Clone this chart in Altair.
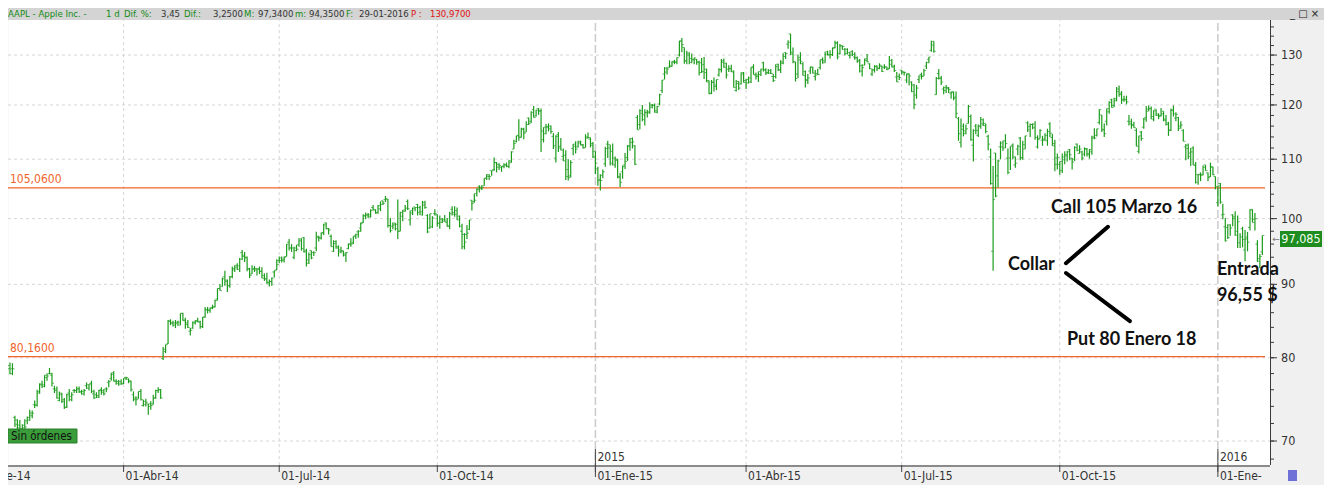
import altair as alt
import numpy as np
import pandas as pd

# ---------------- calendar ----------------
START = "2014-01-21"
END = "2016-01-29"
HOLIDAYS = ["2014-01-01", "2014-01-20", "2014-02-17", "2014-04-18", "2014-05-26", "2014-07-04",
            "2014-09-01", "2014-11-27", "2014-12-25", "2015-01-01", "2015-01-19", "2015-02-16",
            "2015-04-03", "2015-05-25", "2015-07-03", "2015-09-07", "2015-11-26", "2015-12-25",
            "2016-01-01", "2016-01-18"]

# ---------------- daily bars (open, high, low, close) per month ----------------
m2014_01 = [(77.3, 78.2, 76.9, 78.0), (78.3, 78.7, 77.9, 78.3), (78.0, 79.1, 77.8, 79.0), (78.6, 79.4, 77.9, 78.0),
            (78.6, 79.3, 77.8, 78.6), (72.7, 72.9, 71.6, 72.4), (71.9, 72.5, 71.2, 71.5), (71.8, 72.4, 71.3, 71.4),
            (71.0, 71.9, 70.5, 71.5)]
m2014_02 = [(71.8, 72.5, 71.3, 71.6), (72.3, 72.8, 71.9, 72.7), (72.4, 73.6, 72.3, 73.2), (72.9, 73.5, 72.6, 73.2),
            (74.2, 74.7, 73.8, 74.2), (74.1, 76.0, 74.0, 75.6), (75.8, 76.8, 75.5, 76.6), (76.7, 77.1, 76.2, 76.6),
            (76.4, 77.8, 76.3, 77.8), (77.5, 78.0, 77.1, 77.7), (78.0, 78.7, 77.9, 78.0), (77.8, 78.1, 76.4, 76.8),
            (76.1, 76.5, 75.6, 75.9), (76.1, 76.4, 74.9, 75.0), (74.7, 75.8, 74.6, 75.4), (75.6, 75.6, 74.4, 74.6),
            (74.8, 75.0, 73.7, 73.9), (73.9, 75.5, 73.8, 75.4), (75.6, 76.1, 74.6, 75.2)]
m2014_03 = [(74.8, 75.7, 74.6, 75.4), (75.9, 76.1, 75.6, 75.9), (75.9, 76.4, 75.6, 76.1), (76.1, 76.4, 75.6, 75.8),
            (75.7, 76.0, 75.4, 75.8), (75.5, 76.1, 75.3, 75.9), (76.5, 76.9, 76.1, 76.6), (76.2, 76.7, 75.9, 76.7),
            (76.8, 77.1, 75.6, 75.8), (75.5, 76.0, 74.9, 75.0), (75.4, 75.7, 75.0, 75.3), (75.1, 76.0, 75.0, 75.9),
            (76.0, 76.3, 75.4, 75.9), (75.7, 76.1, 75.3, 75.5), (76.1, 76.3, 75.7, 76.1), (76.9, 77.2, 76.3, 77.0),
            (77.4, 78.1, 77.1, 77.9), (78.1, 78.3, 77.0, 77.1), (77.0, 77.3, 76.6, 76.8), (77.0, 77.2, 76.5, 76.7),
            (77.0, 77.3, 76.6, 76.7)]
m2014_04 = [(76.8, 77.4, 76.7, 77.4), (77.5, 77.6, 77.2, 77.5), (77.3, 77.4, 76.8, 77.0), (77.1, 77.1, 75.8, 76.0),
            (75.4, 75.8, 74.6, 74.8), (75.0, 75.2, 74.1, 74.8), (75.0, 75.8, 74.9, 75.8), (75.8, 76.1, 74.7, 74.8),
            (74.1, 74.8, 74.0, 74.2), (74.6, 74.9, 74.0, 74.5), (74.3, 74.3, 73.0, 74.0), (74.3, 74.6, 73.6, 74.1),
            (74.3, 75.4, 74.2, 75.0), (75.0, 76.0, 74.9, 75.9), (75.9, 76.3, 75.6, 76.0), (76.0, 76.1, 74.9, 75.0),
            (79.9, 81.4, 79.7, 81.1), (80.8, 81.7, 80.6, 81.7), (81.8, 85.0, 81.8, 84.9), (84.8, 85.1, 84.3, 84.6),
            (84.6, 84.9, 84.1, 84.3)]
m2014_05 = [(84.6, 85.0, 83.9, 84.5), (84.7, 84.9, 84.2, 84.7), (84.3, 85.9, 84.3, 85.9), (85.9, 86.0, 84.9, 84.9),
            (85.0, 85.3, 83.8, 84.6), (84.4, 85.0, 83.9, 84.0), (83.5, 83.9, 82.9, 83.6), (83.9, 84.8, 83.8, 84.7),
            (84.6, 85.0, 84.4, 84.8), (84.9, 85.3, 84.7, 84.8), (84.7, 84.9, 83.8, 84.1), (84.1, 85.4, 83.9, 85.4),
            (85.4, 86.8, 85.3, 86.4), (86.4, 86.8, 85.9, 86.4), (86.3, 86.7, 86.0, 86.6), (86.7, 87.1, 86.5, 86.8),
            (86.8, 87.8, 86.7, 87.7), (87.9, 89.4, 87.7, 89.4), (89.4, 90.0, 89.1, 89.1), (89.7, 91.0, 89.7, 90.8),
            (91.1, 92.0, 89.8, 90.4)]
m2014_06 = [(90.6, 90.7, 88.9, 89.8), (89.8, 91.2, 89.5, 91.1), (91.1, 92.6, 90.9, 92.1), (92.3, 92.8, 91.8, 92.5),
            (92.8, 93.1, 92.1, 92.2), (92.7, 93.9, 91.8, 93.7), (94.7, 95.1, 93.6, 94.3), (94.1, 94.8, 93.3, 93.9),
            (94.0, 94.1, 91.9, 92.3), (92.2, 92.4, 90.9, 91.3), (91.5, 92.8, 91.5, 92.2), (92.3, 92.7, 91.8, 92.1),
            (92.3, 92.3, 91.3, 92.2), (92.3, 92.6, 91.5, 91.9), (91.9, 92.5, 90.9, 90.9), (91.3, 91.6, 90.5, 90.8),
            (90.8, 91.7, 90.1, 90.3), (90.2, 90.7, 89.7, 90.4), (90.4, 91.0, 89.8, 90.9), (91.8, 92.0, 91.0, 92.0),
            (92.1, 93.7, 92.1, 92.9)]
m2014_07 = [(93.5, 94.1, 93.1, 93.5), (93.9, 94.1, 93.2, 93.5), (93.7, 94.1, 93.2, 94.0), (94.1, 96.0, 94.1, 96.0),
            (96.3, 96.8, 95.0, 95.4), (95.4, 96.0, 94.8, 95.4), (94.0, 95.6, 93.7, 95.0), (95.4, 95.9, 94.9, 95.2),
            (95.9, 96.9, 95.6, 96.5), (96.8, 96.9, 95.0, 95.3), (97.0, 97.1, 94.7, 94.8), (95.0, 95.3, 92.6, 93.1),
            (93.6, 94.7, 93.0, 94.4), (95.0, 95.0, 93.7, 93.9), (94.7, 94.9, 94.2, 94.7), (95.4, 97.9, 94.9, 97.2),
            (97.0, 97.3, 96.4, 97.0), (96.9, 97.8, 96.7, 97.7), (97.8, 99.2, 97.4, 99.0), (99.3, 99.4, 98.3, 98.4),
            (98.4, 98.5, 97.5, 98.2), (97.2, 97.5, 95.6, 95.6)]
m2014_08 = [(94.9, 96.6, 94.8, 96.1), (96.4, 96.6, 95.3, 95.6), (95.4, 95.8, 94.1, 95.1), (94.8, 95.6, 94.6, 95.0),
            (94.9, 95.0, 94.1, 94.5), (94.3, 94.8, 93.3, 94.7), (95.3, 96.1, 95.2, 96.0), (96.0, 96.9, 95.6, 96.0),
            (96.2, 97.2, 96.0, 97.2), (97.3, 97.6, 96.8, 97.5), (97.9, 98.2, 97.0, 98.0), (98.5, 99.4, 97.9, 99.2),
            (99.4, 100.7, 99.3, 100.5), (100.4, 101.0, 99.9, 100.6), (100.6, 100.9, 100.1, 100.6),
            (100.3, 101.5, 100.2, 101.3), (101.8, 102.2, 101.3, 101.5), (101.4, 101.5, 100.8, 100.9),
            (101.0, 102.2, 100.8, 102.1), (101.6, 102.8, 101.2, 102.3), (102.9, 102.9, 102.2, 102.5)]
m2014_09 = [(103.1, 103.7, 102.7, 103.3), (103.1, 103.2, 98.6, 98.9), (98.9, 100.1, 97.8, 98.1), (98.8, 99.4, 98.3, 99.0),
            (99.3, 99.3, 98.1, 98.4), (99.1, 103.1, 96.8, 98.0), (98.0, 101.1, 98.0, 101.0), (100.4, 101.4, 99.6, 101.4),
            (101.2, 102.2, 101.1, 101.7), (102.8, 103.1, 101.4, 101.6), (99.8, 101.3, 98.9, 100.9),
            (101.3, 101.8, 100.6, 101.6), (101.9, 101.9, 101.2, 101.8), (102.3, 102.4, 100.5, 101.0),
            (101.8, 102.1, 100.6, 101.1), (100.6, 102.9, 100.5, 102.6), (102.2, 102.9, 101.6, 101.8),
            (100.5, 100.7, 97.7, 97.9), (98.5, 100.8, 98.4, 100.8), (98.7, 100.4, 98.5, 100.1), (100.8, 101.5, 100.5, 100.8)]
m2014_10 = [(100.6, 100.7, 98.7, 99.2), (99.3, 100.5, 98.4, 99.9), (99.4, 100.1, 99.3, 99.6), (99.9, 100.6, 99.5, 99.6),
            (99.4, 100.1, 98.7, 98.8), (98.8, 101.1, 98.3, 100.8), (101.5, 102.0, 100.5, 101.0), (100.7, 102.0, 100.3, 100.7),
            (101.3, 101.8, 99.8, 99.8), (100.4, 100.5, 98.6, 98.8), (98.0, 99.2, 95.2, 97.5), (95.6, 97.7, 95.2, 96.3),
            (97.5, 99.0, 96.8, 97.7), (98.3, 99.8, 98.2, 99.8), (103.0, 103.0, 101.3, 102.5), (102.8, 104.1, 102.6, 103.0),
            (104.1, 105.0, 103.6, 104.8), (105.2, 105.5, 104.3, 105.2), (104.9, 105.5, 104.7, 105.1),
            (105.4, 106.7, 105.4, 106.7), (106.7, 107.4, 106.4, 107.3), (107.0, 107.4, 106.4, 107.0),
            (108.0, 108.0, 107.1, 108.0)]
m2014_11 = [(108.2, 110.3, 108.0, 109.4), (109.4, 109.5, 107.7, 108.6), (109.1, 109.3, 108.1, 108.9),
            (108.6, 108.8, 107.8, 108.7), (108.8, 109.3, 108.4, 109.0), (109.0, 109.4, 108.6, 108.8),
            (108.7, 109.8, 108.4, 109.7), (109.4, 111.4, 109.4, 111.3), (111.8, 113.5, 111.8, 112.8),
            (113.2, 114.2, 113.0, 114.2), (114.3, 117.3, 113.3, 114.0), (113.9, 115.7, 113.9, 115.5),
            (115.4, 115.7, 113.6, 114.7), (114.9, 116.9, 114.9, 116.3), (117.5, 117.6, 116.2, 116.5),
            (116.9, 118.8, 116.6, 118.6), (119.1, 119.8, 117.6, 117.6), (117.9, 119.1, 117.8, 119.0),
            (119.3, 119.4, 118.1, 118.9)]
m2014_12 = [(118.8, 119.3, 111.3, 115.1), (113.5, 115.8, 113.0, 114.6), (115.8, 116.4, 114.5, 115.9),
            (115.8, 116.5, 115.0, 115.5), (116.0, 116.1, 114.6, 115.0), (114.1, 114.7, 111.8, 112.4),
            (110.2, 114.3, 109.4, 114.1), (114.4, 114.9, 111.3, 112.0), (112.3, 113.8, 111.6, 111.6),
            (110.5, 111.9, 109.7, 109.7), (110.7, 111.6, 106.4, 108.2), (107.0, 110.0, 106.3, 106.8),
            (107.1, 109.8, 106.8, 109.4), (111.9, 112.7, 110.7, 112.7), (112.3, 113.2, 111.0, 111.8),
            (112.2, 113.3, 112.1, 112.9), (113.2, 113.3, 112.5, 112.5), (112.6, 112.7, 111.9, 112.0),
            (112.1, 114.5, 112.1, 114.0), (113.8, 114.8, 113.7, 113.9), (113.6, 113.9, 112.1, 112.5),
            (112.8, 113.1, 110.2, 110.4)]
m2015_01 = [(111.4, 111.4, 107.4, 109.3), (108.3, 108.7, 105.4, 106.3), (106.5, 107.4, 104.6, 106.3),
            (107.2, 108.2, 106.7, 107.8), (109.2, 112.2, 108.7, 111.9), (112.7, 113.3, 110.2, 112.0),
            (112.6, 112.6, 108.9, 109.3), (111.4, 112.8, 108.9, 110.2), (109.0, 110.5, 108.5, 109.8),
            (110.0, 110.1, 106.7, 106.8), (107.0, 107.6, 105.2, 106.0), (107.8, 108.9, 106.6, 108.7),
            (109.0, 111.1, 108.3, 109.6), (110.3, 112.5, 109.7, 112.4), (112.3, 113.8, 111.5, 113.0),
            (113.7, 113.9, 111.9, 113.1), (112.4, 112.5, 109.0, 109.1), (117.6, 118.1, 115.3, 115.3),
            (116.3, 119.2, 115.4, 118.9), (118.4, 120.0, 116.9, 117.2)]
m2015_02 = [(118.1, 119.2, 116.1, 118.6), (118.5, 119.1, 117.6, 118.7), (118.5, 120.5, 118.3, 119.6),
            (120.0, 120.2, 119.3, 119.9), (120.0, 120.3, 118.5, 118.9), (118.6, 119.8, 118.4, 119.7),
            (120.2, 122.2, 119.9, 122.0), (122.8, 124.9, 122.3, 124.9), (126.1, 127.5, 125.0, 126.5),
            (127.3, 127.5, 126.0, 127.1), (127.5, 128.9, 127.4, 127.8), (127.6, 128.7, 127.6, 128.7),
            (128.5, 129.0, 128.1, 128.5), (128.6, 129.5, 128.1, 129.5), (130.0, 133.0, 129.7, 133.0),
            (132.9, 133.6, 130.6, 132.2), (131.6, 131.6, 128.2, 128.8), (128.8, 130.9, 128.1, 130.4),
            (130.0, 130.6, 128.1, 128.5)]
m2015_03 = [(129.3, 130.3, 128.3, 129.1), (129.0, 129.5, 128.1, 129.4), (129.1, 129.2, 128.0, 128.5),
            (128.6, 128.8, 125.8, 126.4), (128.4, 129.4, 126.3, 126.6), (128.0, 129.6, 125.1, 127.1),
            (126.4, 127.2, 124.5, 124.5), (124.8, 124.8, 122.1, 122.2), (122.3, 124.9, 122.1, 124.5),
            (124.4, 125.4, 122.6, 123.6), (123.9, 125.0, 122.9, 125.0), (125.9, 127.3, 125.6, 127.0),
            (127.0, 129.2, 126.4, 128.5), (128.8, 129.3, 127.4, 127.5), (128.3, 128.4, 125.2, 125.9),
            (127.1, 127.9, 126.5, 127.2), (127.2, 128.0, 126.5, 126.7), (126.5, 126.8, 123.4, 123.4),
            (122.8, 124.9, 122.6, 124.2), (124.6, 124.7, 122.9, 123.3), (124.1, 126.4, 124.0, 126.4),
            (126.1, 126.5, 124.4, 124.4)]
m2015_04 = [(124.8, 125.1, 123.1, 124.3), (125.0, 125.6, 124.2, 125.3), (124.5, 127.5, 124.3, 127.4),
            (127.6, 128.1, 126.0, 126.0), (125.9, 126.4, 125.0, 125.6), (125.9, 126.6, 124.5, 126.6),
            (126.0, 127.2, 125.7, 127.1), (128.4, 128.6, 126.6, 126.9), (127.0, 127.3, 125.9, 126.3),
            (126.4, 127.1, 126.1, 126.8), (126.3, 127.1, 126.1, 126.2), (125.6, 126.1, 124.5, 124.8),
            (125.6, 128.1, 125.2, 127.6), (128.1, 128.2, 126.7, 126.9), (127.0, 128.9, 126.3, 128.6),
            (128.3, 130.4, 128.1, 129.7), (130.5, 130.6, 129.2, 130.3), (132.3, 133.1, 131.3, 132.7),
            (134.5, 134.5, 130.0, 130.6), (130.2, 131.6, 128.3, 128.6), (128.6, 128.6, 124.6, 125.2)]
m2015_05 = [(126.1, 130.1, 125.3, 129.0), (129.5, 130.6, 128.1, 128.7), (128.2, 128.5, 125.8, 125.8),
            (126.6, 126.8, 123.4, 125.0), (124.8, 126.1, 124.1, 125.3), (126.7, 127.6, 126.1, 127.6),
            (127.4, 127.6, 126.2, 126.3), (125.6, 126.9, 124.8, 125.9), (126.2, 127.2, 125.9, 126.0),
            (127.4, 129.0, 127.0, 129.0), (129.1, 129.5, 128.2, 128.8), (128.4, 130.7, 128.4, 130.2),
            (130.7, 130.9, 129.9, 130.1), (130.0, 131.0, 129.3, 130.1), (130.1, 131.6, 129.8, 131.4),
            (131.6, 133.0, 131.4, 132.5), (132.6, 132.9, 129.1, 129.6), (130.3, 132.3, 130.1, 132.0),
            (131.9, 132.0, 131.1, 131.8), (131.2, 131.5, 129.9, 130.3)]
m2015_06 = [(131.2, 131.4, 130.1, 130.5), (129.9, 130.7, 129.3, 130.0), (130.7, 131.0, 129.8, 130.1),
            (129.6, 130.6, 129.0, 129.4), (129.5, 129.7, 128.4, 128.7), (128.9, 129.2, 126.4, 127.8),
            (126.7, 128.1, 125.6, 127.4), (127.9, 129.3, 127.9, 128.9), (129.2, 130.2, 128.5, 128.6),
            (128.2, 128.3, 127.1, 127.2), (126.1, 127.2, 125.7, 126.9), (127.0, 127.9, 126.4, 127.6),
            (127.7, 127.9, 126.7, 127.3), (127.2, 128.3, 127.1, 127.9), (127.7, 127.8, 126.5, 126.6),
            (127.5, 128.1, 127.1, 127.6), (127.5, 127.6, 126.9, 127.0), (127.2, 129.8, 127.1, 128.1),
            (128.9, 129.2, 127.5, 127.5), (127.7, 128.0, 126.5, 126.8), (125.5, 126.5, 124.5, 124.5),
            (125.6, 126.2, 124.9, 125.4)]
m2015_07 = [(126.9, 126.9, 126.0, 126.6), (126.4, 126.6, 125.8, 126.4), (124.9, 126.2, 124.3, 126.0),
            (126.2, 126.2, 123.8, 125.7), (124.5, 124.6, 122.5, 122.6), (123.9, 124.1, 119.2, 120.1),
            (121.9, 123.9, 121.2, 123.3), (125.0, 125.8, 124.3, 125.7), (126.0, 126.4, 125.0, 125.6),
            (125.7, 127.2, 125.7, 126.8), (127.7, 128.6, 127.1, 128.5), (129.1, 129.6, 128.3, 129.6),
            (131.0, 133.0, 130.7, 132.1), (132.9, 132.9, 130.5, 130.8), (122.0, 125.5, 122.0, 125.2),
            (126.2, 127.1, 125.0, 125.2), (125.3, 125.7, 123.9, 124.5), (123.1, 123.6, 122.1, 122.8),
            (123.4, 123.9, 122.3, 123.4), (123.2, 123.5, 122.3, 123.0), (122.3, 122.6, 121.2, 122.4),
            (122.6, 122.6, 120.9, 121.3)]
m2015_08 = [(121.5, 122.6, 117.5, 118.4), (117.4, 117.7, 113.3, 114.6), (113.0, 117.4, 112.1, 115.4),
            (116.0, 116.5, 114.1, 115.1), (114.6, 116.3, 114.5, 115.5), (116.5, 120.0, 116.5, 119.7),
            (117.8, 118.2, 113.3, 113.5), (112.5, 115.4, 109.6, 115.2), (116.0, 116.4, 114.5, 115.2),
            (114.3, 116.3, 114.0, 116.0), (116.0, 117.7, 115.5, 117.2), (116.4, 117.4, 116.0, 116.5),
            (116.1, 116.5, 114.7, 115.0), (114.1, 114.4, 111.6, 112.7), (110.4, 111.9, 105.6, 105.8),
            (94.9, 108.8, 92.0, 103.1), (111.1, 111.1, 103.5, 103.7), (107.1, 109.9, 105.1, 109.7),
            (112.2, 113.2, 110.0, 112.9), (112.2, 113.3, 111.5, 113.3), (112.0, 114.5, 112.0, 112.8)]
m2015_09 = [(110.2, 111.9, 107.4, 107.7), (110.2, 112.3, 108.1, 112.3), (112.5, 112.8, 110.0, 110.4),
            (109.0, 110.5, 108.5, 109.3), (111.8, 112.6, 110.7, 112.3), (113.8, 114.0, 109.8, 110.2),
            (110.3, 113.3, 109.9, 112.6), (111.8, 114.2, 111.8, 114.2), (116.6, 116.9, 114.9, 115.3),
            (115.9, 116.5, 114.0, 116.3), (116.3, 116.5, 115.4, 116.4), (115.7, 116.9, 113.5, 113.9),
            (112.2, 114.3, 111.9, 113.5), (113.7, 115.4, 113.7, 115.2), (113.4, 114.2, 112.4, 113.4),
            (113.6, 114.7, 113.3, 114.3), (113.3, 115.5, 112.4, 115.0), (116.4, 116.7, 114.0, 114.7),
            (113.9, 114.6, 112.4, 112.4), (112.8, 113.5, 107.9, 109.1), (110.2, 111.0, 108.2, 110.3)]
m2015_10 = [(109.1, 109.6, 107.3, 109.6), (108.0, 111.0, 107.6, 110.4), (109.9, 111.4, 109.1, 110.8),
            (110.6, 111.5, 109.6, 111.3), (111.7, 111.8, 109.8, 110.8), (110.2, 110.2, 108.2, 109.5),
            (110.0, 112.3, 109.7, 112.1), (112.7, 112.8, 111.4, 111.6), (111.0, 112.5, 111.0, 111.8),
            (111.3, 111.5, 109.8, 110.2), (110.9, 112.1, 110.5, 111.9), (111.8, 112.0, 110.5, 111.0),
            (110.8, 111.8, 110.1, 111.7), (111.3, 114.2, 110.8, 113.8), (114.0, 115.6, 113.6, 113.8),
            (114.3, 115.5, 114.1, 115.5), (116.7, 119.2, 116.3, 119.1), (118.1, 118.1, 114.9, 115.3),
            (115.4, 116.5, 114.0, 114.6), (116.9, 119.3, 116.1, 119.3), (118.7, 120.7, 118.3, 120.5),
            (121.0, 121.2, 119.5, 119.5)]
m2015_11 = [(119.9, 121.4, 119.6, 121.2), (120.8, 123.5, 120.7, 122.6), (123.1, 123.8, 121.6, 122.0),
            (122.3, 122.7, 120.2, 120.9), (121.1, 121.8, 120.6, 121.1), (121.0, 121.8, 120.1, 120.6),
            (116.9, 118.1, 116.1, 116.8), (116.4, 117.4, 115.5, 116.1), (116.3, 116.8, 115.7, 115.7),
            (115.2, 115.6, 112.3, 112.3), (111.4, 114.2, 111.0, 114.2), (114.9, 115.1, 113.3, 113.7),
            (115.8, 117.5, 115.5, 117.3), (117.6, 119.8, 116.8, 118.8), (119.2, 119.9, 118.8, 119.3),
            (119.3, 119.7, 117.3, 117.8), (117.3, 119.0, 116.9, 118.9), (119.2, 119.2, 117.9, 118.0),
            (118.3, 118.4, 117.3, 117.8), (118.0, 119.4, 117.8, 118.3)]
m2015_12 = [(118.8, 118.8, 116.9, 117.3), (117.1, 118.1, 116.1, 116.3), (116.6, 116.8, 114.2, 115.2),
            (115.3, 119.3, 115.1, 119.0), (119.0, 119.9, 117.8, 118.3), (117.5, 118.6, 116.9, 118.2),
            (117.6, 117.7, 115.1, 115.6), (116.0, 116.9, 115.5, 116.2), (115.2, 115.4, 113.2, 113.2),
            (112.2, 112.7, 109.8, 112.5), (111.9, 112.8, 110.0, 110.5), (111.1, 112.0, 108.8, 111.3),
            (112.0, 112.3, 109.0, 109.0), (108.9, 109.5, 105.8, 106.0), (107.3, 107.4, 105.6, 107.3),
            (107.4, 107.7, 106.2, 107.2), (107.3, 108.9, 107.2, 108.6), (109.0, 109.0, 108.0, 108.0),
            (107.6, 107.7, 106.2, 106.8), (107.0, 109.4, 106.9, 108.7), (108.6, 108.7, 107.2, 107.3),
            (107.0, 107.0, 104.8, 105.3)]
m2016_01 = [(102.6, 105.4, 102.0, 105.4), (105.8, 105.9, 102.4, 102.7), (100.6, 102.4, 99.9, 100.7),
            (98.7, 100.1, 96.4, 96.5), (98.6, 99.1, 96.8, 97.0), (99.0, 99.1, 97.3, 98.5), (100.6, 100.7, 98.8, 100.0),
            (100.3, 101.2, 97.3, 97.4), (98.0, 100.5, 95.4, 99.5), (96.2, 97.7, 95.4, 97.1), (98.4, 98.7, 95.5, 96.7),
            (95.1, 98.2, 93.4, 96.8), (97.1, 97.9, 94.9, 96.3), (98.6, 101.5, 98.1, 101.4), (101.5, 101.5, 99.4, 99.4),
            (99.9, 100.9, 98.1, 100.0), (96.0, 96.6, 93.3, 93.4), (93.8, 94.5, 92.4, 94.1), (94.8, 97.34, 94.35, 97.34)]

MONTHS = [("2014-01", m2014_01), ("2014-02", m2014_02), ("2014-03", m2014_03), ("2014-04", m2014_04),
          ("2014-05", m2014_05), ("2014-06", m2014_06), ("2014-07", m2014_07), ("2014-08", m2014_08),
          ("2014-09", m2014_09), ("2014-10", m2014_10), ("2014-11", m2014_11), ("2014-12", m2014_12),
          ("2015-01", m2015_01), ("2015-02", m2015_02), ("2015-03", m2015_03), ("2015-04", m2015_04),
          ("2015-05", m2015_05), ("2015-06", m2015_06), ("2015-07", m2015_07), ("2015-08", m2015_08),
          ("2015-09", m2015_09), ("2015-10", m2015_10), ("2015-11", m2015_11), ("2015-12", m2015_12),
          ("2016-01", m2016_01)]

# ---------------- other values ----------------
GRID_PRICES = [70, 80, 90, 100, 110, 120, 130]
MINOR_TICKS = list(range(68, 140, 2))
LEVELS = [105.06, 80.16]
LEVEL_LABELS = ["105,0600", "80,1600"]
Q_DATES = ["2014-01-02", "2014-04-01", "2014-07-01", "2014-10-01", "2015-01-02",
           "2015-04-01", "2015-07-01", "2015-10-01", "2016-01-04"]
Q_LABELS = ["01-Ene-14", "01-Abr-14", "01-Jul-14", "01-Oct-14", "01-Ene-15",
            "01-Abr-15", "01-Jul-15", "01-Oct-15", "01-Ene-"]
YEAR_DATES = ["2015-01-02", "2016-01-04"]
YEAR_LABELS = ["2015", "2016"]
NOTE_TEXT = ["Call 105 Marzo 16", "Collar", "Put 80 Enero 18", "Entrada", "96,55 $"]
NOTE_IDX = [424.4, 407.0, 430.9, 491.6, 491.6]
NOTE_PRICE = [101.7, 92.8, 82.3, 92.1, 88.3]
STROKE_IDX = [430.5, 430.5]
STROKE_IDX2 = [447.5, 456.4]
STROKE_P = [93.1, 91.65]
STROKE_P2 = [98.7, 84.85]
LAST_PRICE = "97,085"
HEADER_TEXT = ["AAPL - Apple Inc. -", "1 d", "Dif. %:", "3,45", "Dif.:", "3,2500", "M:", "97,3400",
               "m:", "94,3500", "F:", "29-01-2016", "P :", "130,9700"]
HEADER_KIND = ["g", "g", "g", "k", "g", "k", "g", "k", "g", "k", "g", "k", "r", "r"]

# ---------------- build tables ----------------
all_days = [d for d in pd.bdate_range(START, END).strftime("%Y-%m-%d") if d not in HOLIDAYS]
day_index = {d: i for i, d in enumerate(all_days)}
rows = []
for key, vals in MONTHS:
    mdays = [d for d in all_days if d.startswith(key)]
    for d, (o, h, l, c) in zip(mdays, vals):
        rows.append({"idx": day_index[d], "date": d, "open": o, "high": h, "low": l, "close": c})
ohlc = pd.DataFrame(rows)


def bidx(d):
    return int(np.busday_count(START, d, holidays=HOLIDAYS))


qdf = pd.DataFrame({"idx": [bidx(d) for d in Q_DATES], "label": Q_LABELS,
                    "year": [d.endswith("01-02") or d.endswith("01-04") for d in Q_DATES]})
ydf = pd.DataFrame({"idx": [bidx(d) for d in YEAR_DATES], "label": YEAR_LABELS})
notes = pd.DataFrame({"t": NOTE_TEXT, "idx": NOTE_IDX, "p": NOTE_PRICE})
strokes = pd.DataFrame({"i1": STROKE_IDX, "i2": STROKE_IDX2, "p1": STROKE_P, "p2": STROKE_P2})
levels = pd.DataFrame({"p": LEVELS, "label": LEVEL_LABELS})
gridp = pd.DataFrame({"p": GRID_PRICES, "label": [str(v) for v in GRID_PRICES]})

W, H = 1262, 457
XMIN, XMAX = 2.2, 513.1
X = alt.Scale(domain=[XMIN, XMAX], nice=False, zero=False)
Y = alt.Scale(type="log", domain=[67.36, 140.19], nice=False, zero=False)
GREEN = "#1c9c1c"
ORANGE = "#f0642a"
AXC = "#3a3a3a"
NARROW = "Liberation Sans Narrow, DejaVu Sans Condensed, sans-serif"
BOLD = "Lato, Open Sans, sans-serif"

# header segments placed left to right
hx = [0, 98, 116, 153, 176, 205, 236, 250, 287, 301, 338, 351, 403, 422]
hcol = {"g": "#138a13", "k": "#333333", "r": "#e01010"}
header = pd.DataFrame({"t": HEADER_TEXT, "px": hx, "c": [hcol[k] for k in HEADER_KIND]})

one = pd.DataFrame({"a": [0]})

hgrid = alt.Chart(gridp).mark_rule(color="#d6d6d6", strokeDash=[3, 3], strokeWidth=1).encode(
    y=alt.Y("p:Q", scale=Y, axis=None), x=alt.value(0), x2=alt.value(W))

# right-hand price axis drawn by hand
ydom = alt.Chart(one).mark_rule(color=AXC, strokeWidth=1).encode(
    x=alt.value(W + 0.5), y=alt.value(0), y2=alt.value(H))
mint = alt.Chart(pd.DataFrame({"p": MINOR_TICKS})).mark_rule(color=AXC, strokeWidth=1).encode(
    y=alt.Y("p:Q", scale=Y, axis=None), x=alt.value(W), x2=alt.value(W + 4))
majt = alt.Chart(gridp).mark_rule(color=AXC, strokeWidth=1).encode(
    y=alt.Y("p:Q", scale=Y, axis=None), x=alt.value(W), x2=alt.value(W + 7))
ylab = alt.Chart(gridp).mark_text(align="left", baseline="middle", font=NARROW, fontSize=12.5,
                                  color="#333333").encode(
    y=alt.Y("p:Q", scale=Y, axis=None), x=alt.value(W + 11), text="label:N")

vq = alt.Chart(qdf).transform_filter(
    f"datum.idx > {XMIN} && !datum.year").mark_rule(
    color="#d6d6d6", strokeDash=[3, 3], strokeWidth=1).encode(
    x=alt.X("idx:Q", scale=X, axis=None), y=alt.value(4), y2=alt.value(H))
vy = alt.Chart(qdf).transform_filter(
    f"datum.idx > {XMIN} && datum.year").mark_rule(
    color="#cbcbcb", strokeDash=[8, 3], strokeWidth=1.5).encode(
    x=alt.X("idx:Q", scale=X, axis=None), y=alt.value(4), y2=alt.value(H))

lv = alt.Chart(levels).mark_rule(color=ORANGE, strokeWidth=1.3).encode(
    y=alt.Y("p:Q", scale=Y, axis=None), x=alt.value(0), x2=alt.value(W - 5))
lvt = alt.Chart(levels).mark_text(color=ORANGE, align="left", baseline="bottom", dy=-2,
                                  font=NARROW, fontSize=12).encode(
    y=alt.Y("p:Q", scale=Y, axis=None), x=alt.value(2), text="label:N")

hl = alt.Chart(ohlc).mark_rule(color=GREEN, strokeWidth=1.2).encode(
    x=alt.X("idx:Q", scale=X, axis=None),
    y=alt.Y("low:Q", scale=Y, axis=None), y2="high:Q")
op = alt.Chart(ohlc).mark_tick(color=GREEN, orient="horizontal", size=2, thickness=1, xOffset=-1).encode(
    x=alt.X("idx:Q", scale=X, axis=None), y=alt.Y("open:Q", scale=Y, axis=None))
cl = alt.Chart(ohlc).mark_tick(color=GREEN, orient="horizontal", size=2, thickness=1, xOffset=1).encode(
    x=alt.X("idx:Q", scale=X, axis=None), y=alt.Y("close:Q", scale=Y, axis=None))

st = alt.Chart(strokes).mark_rule(color="black", strokeWidth=4, strokeCap="round").encode(
    x=alt.X("i1:Q", scale=X, axis=None), x2="i2:Q",
    y=alt.Y("p1:Q", scale=Y, axis=None), y2="p2:Q")
nt = alt.Chart(notes).mark_text(align="left", baseline="middle", font=BOLD, fontWeight="bold",
                                fontSize=18, color="#111111").encode(
    x=alt.X("idx:Q", scale=X, axis=None), y=alt.Y("p:Q", scale=Y, axis=None), text="t:N")

# x axis band
axline = alt.Chart(one).mark_rule(color="#8a8a8a", strokeWidth=2).encode(
    x=alt.value(0), x2=alt.value(W), y=alt.value(H + 1))
qt = alt.Chart(qdf).mark_rule(color="#444444", strokeWidth=1).encode(
    x=alt.X("idx:Q", scale=X, axis=None), y=alt.value(H), y2=alt.value(H + 7))
ql = alt.Chart(qdf).mark_text(align="left", baseline="middle", dx=2, font=NARROW, fontSize=12,
                              color="#333333").encode(
    x=alt.X("idx:Q", scale=X, axis=None), y=alt.value(H + 11), text="label:N")
yt = alt.Chart(ydf).mark_rule(color="#444444", strokeWidth=1).encode(
    x=alt.X("idx:Q", scale=X, axis=None), y=alt.value(H - 16), y2=alt.value(H + 12))
yl = alt.Chart(ydf).mark_text(align="left", baseline="middle", dx=2, font=NARROW, fontSize=12,
                              color="#333333").encode(
    x=alt.X("idx:Q", scale=X, axis=None), y=alt.value(H - 8), text="label:N")

# header bar
hbar = alt.Chart(one).mark_rect(color="#d4d4d4").encode(
    x=alt.value(0), x2=alt.value(W + 54), y=alt.value(0), y2=alt.value(12))
htxt = alt.Chart(header).mark_text(align="left", baseline="middle", font=NARROW, fontSize=9.5).encode(
    x=alt.X("px:Q", scale=None), y=alt.value(6), text="t:N", color=alt.Color("c:N", scale=None))
hwin = alt.Chart(pd.DataFrame({"t": ["_ \u25a1 \u00d7"]})).mark_text(
    align="left", baseline="middle", font="DejaVu Sans", fontSize=10, color="#222222").encode(
    x=alt.value(W + 20), y=alt.value(6), text="t:N")

# "Sin órdenes" tag
sbox = alt.Chart(one).mark_rect(color="#3a9d3a", stroke="#2a7f2a").encode(
    x=alt.value(0), x2=alt.value(69), y=alt.value(421), y2=alt.value(435))
stxt = alt.Chart(pd.DataFrame({"t": ["Sin \u00f3rdenes"]})).mark_text(
    align="left", baseline="middle", font=NARROW, fontSize=11.5, color="#111111").encode(
    x=alt.value(3), y=alt.value(428.5), text="t:N")

# last price tag
pbox = alt.Chart(one).mark_rect(color="#1e8c1e").encode(
    x=alt.value(W + 10), x2=alt.value(W + 52), y=alt.value(223), y2=alt.value(239))
ptxt = alt.Chart(pd.DataFrame({"t": [LAST_PRICE]})).mark_text(
    align="center", baseline="middle", font=NARROW, fontSize=12.5, color="#f4fff4").encode(
    x=alt.value(W + 31), y=alt.value(231), text="t:N")
parr = alt.Chart(pd.DataFrame({"t": ["\u2190"]})).mark_text(
    align="center", baseline="middle", font="DejaVu Sans", fontSize=9, color="#777777").encode(
    x=alt.value(W + 6), y=alt.value(231), text="t:N")
icon = alt.Chart(one).mark_rect(color="#6f6fd8").encode(
    x=alt.value(W + 18), x2=alt.value(W + 27), y=alt.value(H + 5), y2=alt.value(H + 16))

chart = alt.layer(
    hgrid, vq, vy, lv, lvt, hl, op, cl, ydom, mint, majt, ylab, st, nt,
    axline, qt, ql, yt, yl, hbar, htxt, hwin, sbox, stxt, pbox, ptxt, parr, icon
).properties(
    width=W, height=H,
    autosize=alt.AutoSizeParams(type="none"),
    padding={"left": 0, "top": 0, "right": 54, "bottom": 20},
).configure(background="#f0f0f0").configure_view(fill="white", stroke="transparent")

chart.save("out.html", embed_options={"renderer": "svg", "actions": False})
